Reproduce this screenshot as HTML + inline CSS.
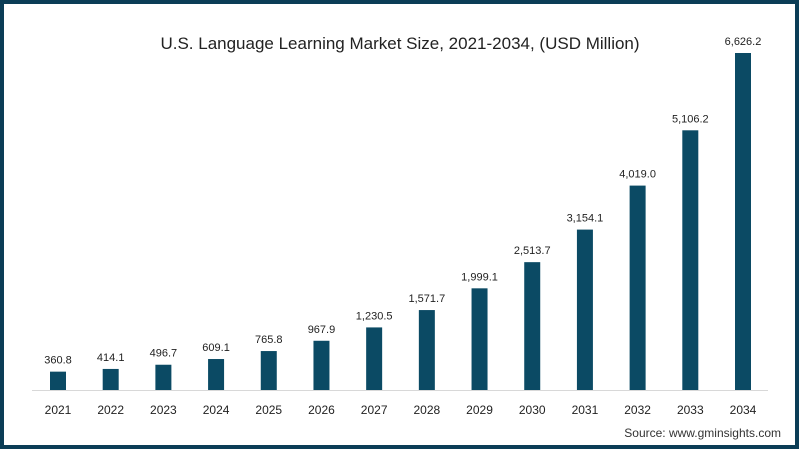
<!DOCTYPE html>
<html><head><meta charset="utf-8"><style>
html,body{margin:0;padding:0;background:#fff}
body{width:800px;height:450px;overflow:hidden;font-family:"Liberation Sans",sans-serif}
</style></head><body>
<svg id="chart" width="800" height="450" viewBox="0 0 800 450" xmlns="http://www.w3.org/2000/svg">
<rect x="2" y="2" width="795" height="445" fill="#fff" stroke="#0b3d56" stroke-width="4"/>
<text x="400" y="49" text-anchor="middle" font-size="17" fill="#222">U.S. Language Learning Market Size, 2021-2034, (USD Million)</text>
<line x1="32" y1="390.5" x2="768" y2="390.5" stroke="#d8d8d8" stroke-width="1"/>
<g id="bars"></g>
<text x="781" y="437" text-anchor="end" font-size="12" fill="#333">Source: www.gminsights.com</text>
</svg>
<script>
const years = ["2021","2022","2023","2024","2025","2026","2027","2028","2029","2030","2031","2032","2033","2034"];
const values = [360.8,414.1,496.7,609.1,765.8,967.9,1230.5,1571.7,1999.1,2513.7,3154.1,4019.0,5106.2,6626.2];
const valueLabels = ["360.8","414.1","496.7","609.1","765.8","967.9","1,230.5","1,571.7","1,999.1","2,513.7","3,154.1","4,019.0","5,106.2","6,626.2"];
const ns="http://www.w3.org/2000/svg";
const g=document.getElementById('bars');
const baseY=390, plotH=337, maxV=6626.2;
const yScale=v=>baseY - v/maxV*plotH;
const x0=58, step=(743-58)/13;
const xScale=i=>x0+i*step;
const bw=16;
years.forEach((yr,i)=>{
  const cx=xScale(i), top=yScale(values[i]);
  const r=document.createElementNS(ns,'rect');
  
  
  r.setAttribute('x',cx-bw/2);r.setAttribute('y',top);
  r.setAttribute('width',bw);r.setAttribute('height',baseY-top);
  r.setAttribute('fill','#0b4a64');
  g.appendChild(r);
  const t=document.createElementNS(ns,'text');
  
  
  t.setAttribute('x',cx);t.setAttribute('y',top-8);
  t.setAttribute('text-anchor','middle');t.setAttribute('font-size','11');t.setAttribute('fill','#222');
  t.textContent=valueLabels[i];
  g.appendChild(t);
  const l=document.createElementNS(ns,'text');
  
  
  l.setAttribute('x',cx);l.setAttribute('y',414);
  l.setAttribute('text-anchor','middle');l.setAttribute('font-size','12');l.setAttribute('fill','#222');
  l.textContent=yr;
  g.appendChild(l);
});
</script>
</body></html>
